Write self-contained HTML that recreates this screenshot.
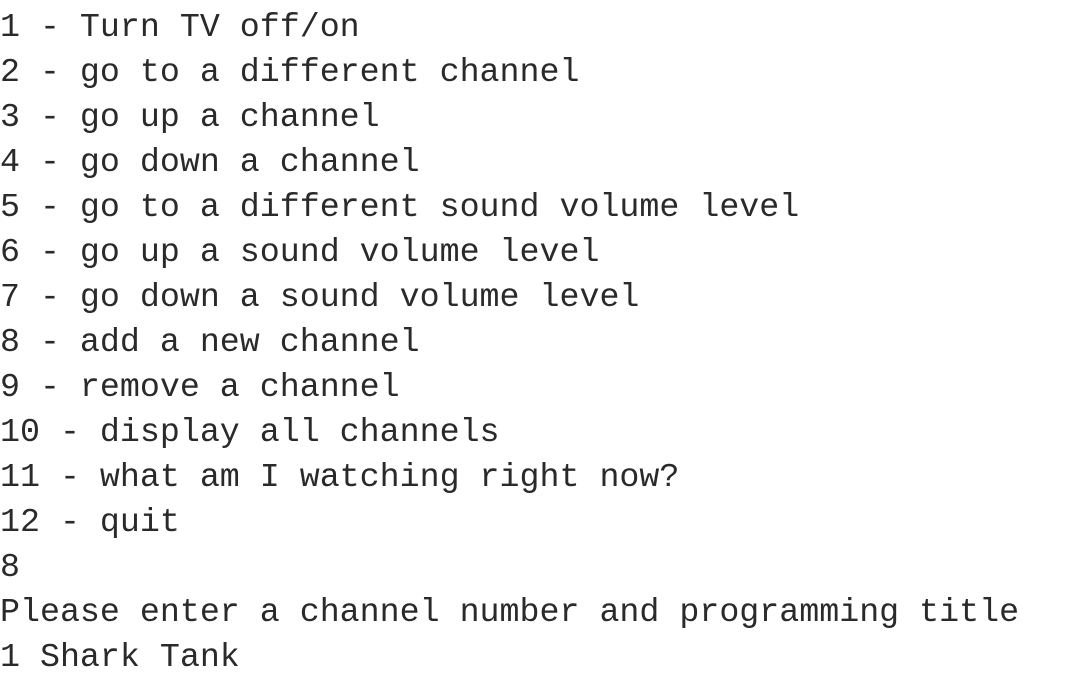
<!DOCTYPE html>
<html><head><style>
html,body{margin:0;padding:0;background:#fff;width:1071px;height:681px;overflow:hidden}
pre{margin:0;padding:5px 0 0 0;font-family:"Liberation Mono",monospace;font-size:33.3px;line-height:45px;color:#2a2a2a}
</style></head><body><pre>1 - Turn TV off/on
2 - go to a different channel
3 - go up a channel
4 - go down a channel
5 - go to a different sound volume level
6 - go up a sound volume level
7 - go down a sound volume level
8 - add a new channel
9 - remove a channel
10 - display all channels
11 - what am I watching right now?
12 - quit
8
Please enter a channel number and programming title
1 Shark Tank</pre></body></html>
